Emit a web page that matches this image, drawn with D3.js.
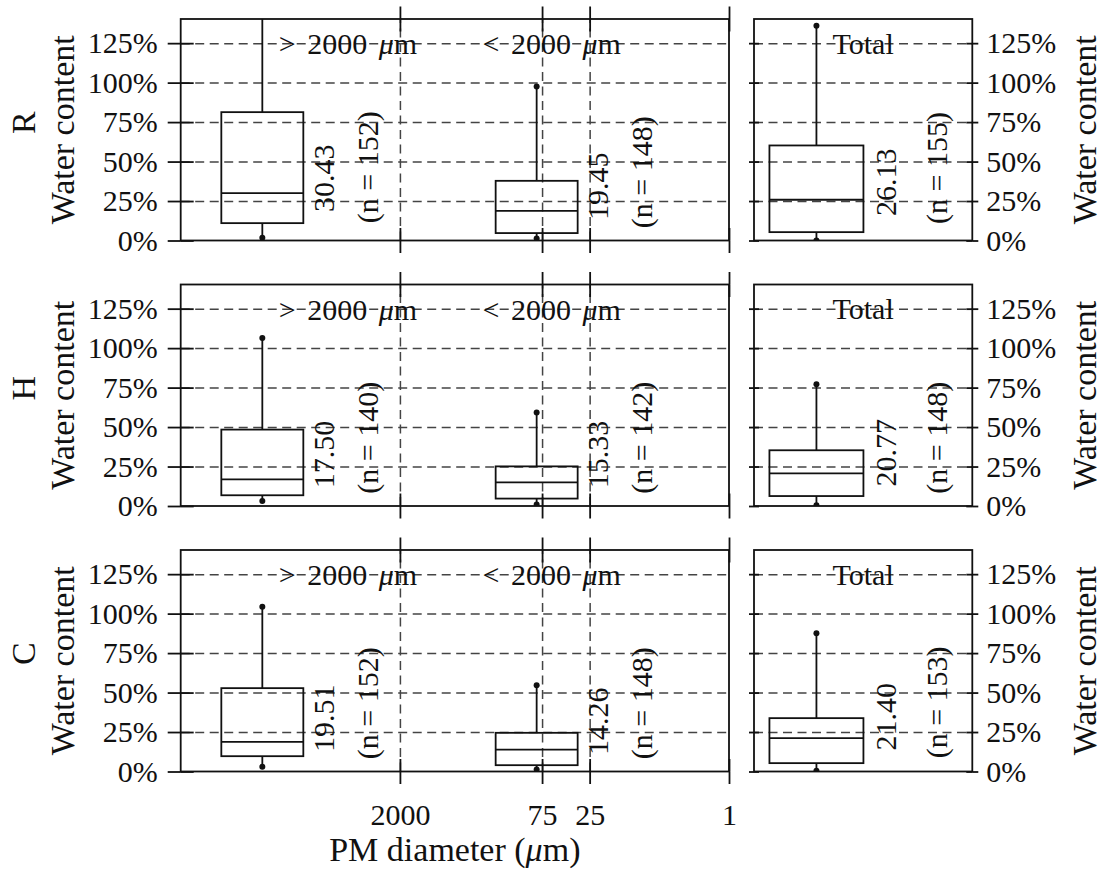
<!DOCTYPE html>
<html><head><meta charset="utf-8">
<script src="https://cdn.jsdelivr.net/npm/d3@7"></script>
<style>body{margin:0;background:#fff}</style>
</head><body>
<svg id="c" width="1102" height="872"></svg>
<script>
// ---------- data ----------
const rows = ["R", "H", "C"];
const sizeClassSigns = [">", "<"];
const sizeClassValue = "2000";
const totalLabel = "Total";
const boxAt = [48000, 85];          // µm position of the two size-class boxes on the log axis
const rangeLabelAt = [6650, 60];    // µm position of the size-class captions
const totalBoxAt = [0.286];
const xTicks = [2000, 75, 25, 1];
const xTickLabels = ["2000", "75", "25", "1"];
const yTicks = [0, 25, 50, 75, 100, 125];
const yTickLabels = ["0%", "25%", "50%", "75%", "100%", "125%"];
const yMax = 140.3;
// per row: [> 2000 µm, < 2000 µm, Total]
const whiskerLow  = [[1.7, 1.3, 0.0], [3.2, 0.9, 0.4], [3.0, 1.3, 0.4]];
const q1          = [[11.0, 4.7, 5.3], [6.8, 4.7, 6.3], [9.7, 4.0, 5.3]];
const median      = [[30.0, 18.8, 25.8], [16.9, 15.0, 20.7], [18.8, 13.9, 21.1]];
const q3          = [[81.3, 37.8, 60.2], [48.4, 25.1, 35.3], [52.8, 24.5, 33.8]];
const whiskerHigh = [[150, 97.5, 136.0], [106.4, 59.3, 77.1], [104.3, 54.7, 87.6]];
const medianLabels = [["30.43", "19.45", "26.13"], ["17.50", "15.33", "20.77"], ["19.51", "14.26", "21.40"]];
const counts = [[152, 148, 155], [140, 142, 148], [152, 148, 153]];
const valueLabelAt = [[39.5, 34.4, 36.9], [32.6, 32.6, 33.7], [33.7, 31.9, 34.6]];
const countLabelAt = [[46.4, 43.2, 45.9], [43.2, 43.2, 43.2], [43.2, 43.2, 43.8]];

// ---------- layout ----------
const svg = d3.select("#c");
const font = "'Liberation Serif', 'Times New Roman', serif";
const ink = "#111", gridInk = "#444";
const L0 = 180.7, L1 = 729, T0 = 754, T1 = 972.3;
const top0 = 19, rowStep = 265.5, rowH = 221.5;
const bwLeft = 82, bwTotal = 94;
const tickFs = 30, titleFs = 34;
const lw = 1.8;

const x = d3.scaleLog().domain([Math.pow(10, 5.5), 1]).range([L0, L1]);
const xt = d3.scaleLinear().domain([0, 1]).range([T0, T1]);

function styleAxis(g, showText) {
  g.select(".domain").remove();
  g.selectAll("line").attr("stroke", ink).attr("stroke-width", lw);
  g.selectAll("text").attr("font-family", font).attr("font-size", tickFs).attr("fill", ink);
  if (!showText) g.selectAll("text").remove();
  g.attr("font-family", null).attr("font-size", null);
}
function styleGrid(g) {
  g.select(".domain").remove();
  g.selectAll("text").remove();
  g.selectAll("line").attr("stroke", gridInk).attr("stroke-width", 1.5).attr("stroke-dasharray", "9,5.5");
}

function sizeCaption(g, tx, ty, sign) {
  const t = g.append("text").attr("x", tx).attr("y", ty)
    .attr("text-anchor", "middle").attr("dominant-baseline", "central")
    .attr("font-family", font).attr("font-size", tickFs).attr("fill", ink);
  t.append("tspan").text(sign + " ");
  t.append("tspan").attr("dx", 4).text(sizeClassValue + " ");
  t.append("tspan").attr("dx", 4).attr("font-style", "italic").text("\u03bc");
  t.append("tspan").text("m");
}

rows.forEach((rowName, i) => {
  const top = top0 + i * rowStep, bot = top + rowH;
  const y = d3.scaleLinear().domain([0, yMax]).range([bot, top]);
  const g = svg.append("g");

  const defs = g.append("defs");
  defs.append("clipPath").attr("id", "cl" + i).append("rect")
    .attr("x", L0).attr("y", top).attr("width", L1 - L0).attr("height", rowH);
  defs.append("clipPath").attr("id", "ct" + i).append("rect")
    .attr("x", T0).attr("y", top).attr("width", T1 - T0).attr("height", rowH);

  // gridlines
  g.append("g").attr("transform", `translate(${L0},0)`)
    .call(d3.axisLeft(y).tickValues(yTicks.slice(1)).tickSize(-(L1 - L0)).tickFormat(""))
    .call(styleGrid);
  g.append("g").attr("transform", `translate(0,${bot})`)
    .call(d3.axisBottom(x).tickValues(xTicks.slice(0, 3)).tickSize(-rowH).tickFormat(""))
    .call(styleGrid);
  g.append("g").attr("transform", `translate(${T0},0)`)
    .call(d3.axisLeft(y).tickValues(yTicks.slice(1)).tickSize(-(T1 - T0)).tickFormat(""))
    .call(styleGrid);

  // frames
  [[L0, L1], [T0, T1]].forEach(([a, b]) => {
    g.append("rect").attr("x", a).attr("y", top).attr("width", b - a).attr("height", rowH)
      .attr("fill", "none").attr("stroke", ink).attr("stroke-width", lw);
  });

  // left y axis (ticks cross the frame)
  g.append("g").attr("transform", `translate(${L0},0)`)
    .call(d3.axisLeft(y).tickValues(yTicks).tickSize(13).tickPadding(10)
      .tickFormat((d, k) => yTickLabels[k]))
    .call(gg => styleAxis(gg, true));
  g.append("g").attr("transform", `translate(${L0},0)`)
    .call(d3.axisRight(y).tickValues(yTicks).tickSize(13).tickFormat(""))
    .call(gg => styleAxis(gg, false));
  // x ticks top and bottom of left panel
  g.append("g").attr("transform", `translate(0,${top})`)
    .call(d3.axisTop(x).tickValues(xTicks).tickSize(12.5).tickFormat(""))
    .call(gg => styleAxis(gg, false));
  g.append("g").attr("transform", `translate(0,${top})`)
    .call(d3.axisBottom(x).tickValues(xTicks).tickSize(12.5).tickFormat(""))
    .call(gg => styleAxis(gg, false));
  g.append("g").attr("transform", `translate(0,${bot})`)
    .call(d3.axisTop(x).tickValues(xTicks).tickSize(12.5).tickFormat(""))
    .call(gg => styleAxis(gg, false));
  g.append("g").attr("transform", `translate(0,${bot})`)
    .call(d3.axisBottom(x).tickValues(xTicks).tickSize(12.5).tickPadding(20)
      .tickFormat((d, k) => xTickLabels[k]))
    .call(gg => styleAxis(gg, i === rows.length - 1));

  // total panel y ticks
  g.append("g").attr("transform", `translate(${T0},0)`)
    .call(d3.axisLeft(y).tickValues(yTicks).tickSize(5).tickFormat(""))
    .call(gg => styleAxis(gg, false));
  g.append("g").attr("transform", `translate(${T0},0)`)
    .call(d3.axisRight(y).tickValues(yTicks).tickSize(5).tickFormat(""))
    .call(gg => styleAxis(gg, false));
  g.append("g").attr("transform", `translate(${T1},0)`)
    .call(d3.axisRight(y).tickValues(yTicks).tickSize(6).tickPadding(8)
      .tickFormat((d, k) => yTickLabels[k]))
    .call(gg => styleAxis(gg, true));
  g.append("g").attr("transform", `translate(${T1},0)`)
    .call(d3.axisLeft(y).tickValues(yTicks).tickSize(6).tickFormat(""))
    .call(gg => styleAxis(gg, false));

  // boxes
  for (let k = 0; k < 3; k++) {
    const cx = k < 2 ? x(boxAt[k]) : xt(totalBoxAt[0]);
    const bw = k < 2 ? bwLeft : bwTotal;
    const bg = g.append("g").attr("clip-path", `url(#${k < 2 ? "cl" : "ct"}${i})`);
    bg.append("line").attr("x1", cx).attr("x2", cx).attr("y1", y(q3[i][k])).attr("y2", y(whiskerHigh[i][k]))
      .attr("stroke", ink).attr("stroke-width", lw);
    bg.append("line").attr("x1", cx).attr("x2", cx).attr("y1", y(q1[i][k])).attr("y2", y(whiskerLow[i][k]))
      .attr("stroke", ink).attr("stroke-width", lw);
    bg.append("rect").attr("x", cx - bw / 2).attr("width", bw)
      .attr("y", y(q3[i][k])).attr("height", y(q1[i][k]) - y(q3[i][k]))
      .attr("fill", "none").attr("stroke", ink).attr("stroke-width", lw);
    bg.append("line").attr("x1", cx - bw / 2).attr("x2", cx + bw / 2)
      .attr("y1", y(median[i][k])).attr("y2", y(median[i][k]))
      .attr("stroke", ink).attr("stroke-width", lw);
    [whiskerLow[i][k], whiskerHigh[i][k]].forEach(v => {
      bg.append("circle").attr("cx", cx).attr("cy", y(v)).attr("r", 3).attr("fill", ink);
    });
    g.append("text").attr("transform", `translate(${cx + 0.74 * bw},${y(valueLabelAt[i][k])}) rotate(-90)`)
      .attr("text-anchor", "middle").attr("dominant-baseline", "central")
      .attr("font-family", font).attr("font-size", tickFs).attr("fill", ink)
      .text(medianLabels[i][k]);
    g.append("text").attr("transform", `translate(${cx + 1.28 * bw},${y(countLabelAt[i][k])}) rotate(-90)`)
      .attr("text-anchor", "middle").attr("dominant-baseline", "central")
      .attr("font-family", font).attr("font-size", tickFs).attr("fill", ink)
      .text(`(n = ${counts[i][k]})`);
  }

  // captions
  sizeCaption(g, x(rangeLabelAt[0]), y(125), sizeClassSigns[0]);
  sizeCaption(g, x(rangeLabelAt[1]), y(125), sizeClassSigns[1]);
  g.append("text").attr("x", xt(0.5)).attr("y", y(125))
    .attr("text-anchor", "middle").attr("dominant-baseline", "central")
    .attr("font-family", font).attr("font-size", tickFs).attr("fill", ink).text(totalLabel);

  // row labels / titles
  const cy = (top + bot) / 2;
  g.append("text").attr("transform", `translate(23.5,${cy - 7}) rotate(-90)`)
    .attr("text-anchor", "middle").attr("dominant-baseline", "central")
    .attr("font-family", font).attr("font-size", titleFs).attr("fill", ink).text(rowName);
  g.append("text").attr("transform", `translate(62.4,${cy}) rotate(-90)`)
    .attr("text-anchor", "middle").attr("dominant-baseline", "central")
    .attr("font-family", font).attr("font-size", titleFs).attr("fill", ink).text("Water content");
  g.append("text").attr("transform", `translate(1084.4,${cy}) rotate(-90)`)
    .attr("text-anchor", "middle").attr("dominant-baseline", "central")
    .attr("font-family", font).attr("font-size", titleFs).attr("fill", ink).text("Water content");
});

// x axis title
const xt1 = svg.append("text").attr("x", (L0 + L1) / 2).attr("y", 861)
  .attr("text-anchor", "middle").attr("font-family", font).attr("font-size", titleFs).attr("fill", ink);
xt1.append("tspan").text("PM diameter (");
xt1.append("tspan").attr("font-style", "italic").text("\u03bc");
xt1.append("tspan").text("m)");
</script>
</body></html>
